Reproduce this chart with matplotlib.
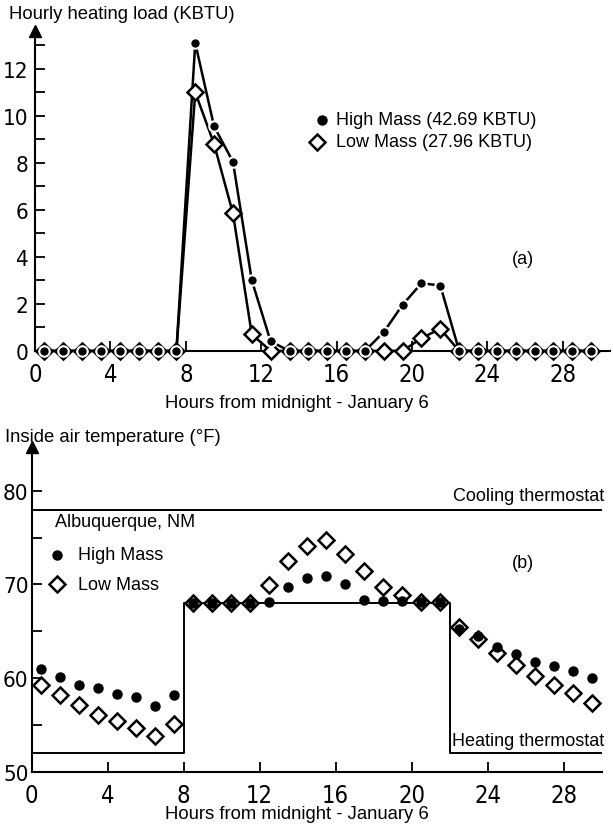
import matplotlib
matplotlib.use('Agg')
import matplotlib.pyplot as plt
from matplotlib import font_manager

# data ---------------------------------------------------------
hours = [0.5, 1.5, 2.5, 3.5, 4.5, 5.5, 6.5, 7.5, 8.5, 9.5,
         10.5, 11.5, 12.5, 13.5, 14.5, 15.5, 16.5, 17.5, 18.5, 19.5,
         20.5, 21.5, 22.5, 23.5, 24.5, 25.5, 26.5, 27.5, 28.5, 29.5]

# (a) hourly heating load, KBTU
load_high = [0, 0, 0, 0, 0, 0, 0, 0, 13.1, 9.55,
             8.05, 3.0, 0.4, 0, 0, 0, 0, 0, 0.8, 1.96,
             2.88, 2.78, 0, 0, 0, 0, 0, 0, 0, 0]
load_low = [0, 0, 0, 0, 0, 0, 0, 0, 11.0, 8.8,
            5.85, 0.7, 0, 0, 0, 0, 0, 0, 0, 0,
            0.54, 0.94, 0, 0, 0, 0, 0, 0, 0, 0]

# (b) inside air temperature, F
temp_high = [61.0, 60.1, 59.3, 58.9, 58.3, 58.0, 57.0, 58.2, 68.0, 68.0,
             68.0, 68.0, 68.1, 69.7, 70.7, 70.9, 70.0, 68.3, 68.2, 68.2,
             68.1, 68.1, 65.2, 64.5, 63.3, 62.6, 61.7, 61.25, 60.7, 60.0]
temp_low = [59.25, 58.2, 57.1, 56.0, 55.4, 54.7, 53.8, 55.1, 68.0, 68.0,
            68.0, 68.0, 69.9, 72.5, 74.1, 74.8, 73.3, 71.4, 69.7, 68.9,
            68.1, 68.1, 65.5, 64.2, 62.7, 61.4, 60.25, 59.3, 58.4, 57.3]

# thermostat schedules
heat_hours = [0, 8, 22, 30]
heat_setpoint = [52, 68, 52, 52]
cool_hours = [0, 30]
cool_setpoint = [78, 78]

xticks = [0, 4, 8, 12, 16, 20, 24, 28]

# fonts ----------------------------------
plt.rcParams['font.family'] = ['Liberation Sans', 'DejaVu Sans']
TXT = 13

# look for a narrow face for the tall, condensed tick numbers
narrow = None
for f in font_manager.fontManager.ttflist:
    tag = (f.name + ' ' + str(f.stretch)).lower()
    if ('narrow' in tag or 'condensed' in tag) and f.style == 'normal' and f.weight in (400, 'normal', 'regular'):
        narrow = f.fname
        break
if narrow:
    xtick_fp = font_manager.FontProperties(fname=narrow, size=17)
    ytick_fp = font_manager.FontProperties(fname=narrow, size=16)
else:
    xtick_fp = font_manager.FontProperties(family='DejaVu Sans', size=14)
    ytick_fp = font_manager.FontProperties(family='DejaVu Sans', size=13)

fig = plt.figure(figsize=(6.13, 8.28), dpi=100)


def style_axis(ax, ymajor, yminor, ypad):
    for s in ['top', 'right']:
        ax.spines[s].set_visible(False)
    ax.spines['left'].set_linewidth(1.5)
    ax.spines['bottom'].set_linewidth(1.5)
    ax.set_xticks(xticks)
    ax.set_yticks(ymajor)
    ax.set_yticks(yminor, minor=True)
    ax.tick_params(axis='both', which='both', direction='in', width=1.3)
    ax.tick_params(axis='both', which='major', length=7)
    ax.tick_params(axis='y', which='minor', length=7)
    ax.tick_params(axis='x', pad=8)
    ax.tick_params(axis='y', pad=ypad)
    for lab in ax.get_xticklabels():
        lab.set_fontproperties(xtick_fp)
    for lab in ax.get_yticklabels():
        lab.set_fontproperties(ytick_fp)
    # arrow head at the top of the y axis
    ax.plot(0, 1, marker='^', ms=8, color='k', transform=ax.transAxes, clip_on=False)


# (a) heating load ----------------------------------
ax1 = fig.add_axes([0.0571, 0.558, 0.938, 0.403])
ax1.set_xlim(0, 30.5)
ax1.set_ylim(-0.6, 13.6)
ax1.spines['bottom'].set_position(('data', 0))
ax1.spines['left'].set_bounds(0, 13.6)
style_axis(ax1, [0, 2, 4, 6, 8, 10, 12], list(range(0, 14)), 5)

ax1.plot(hours, load_high, color='k', lw=1.8, zorder=2)
ax1.plot(hours, load_low, color='k', lw=1.8, zorder=2)
ax1.plot(hours, load_low, linestyle='none', marker='D', ms=8, mfc='white',
         mec='k', mew=1.8, zorder=3, clip_on=False)
ax1.plot(hours, load_high, linestyle='none', marker='o', ms=7.5, mfc='k',
         mec='white', mew=1.5, zorder=4, clip_on=False)

# legend (a)
ax1.plot(15.2, 9.83, 'o', color='k', ms=6.5)
ax1.plot(14.95, 8.9, 'D', mfc='white', mec='k', mew=1.8, ms=8)
ax1.text(15.95, 9.83, 'High Mass (42.69 KBTU)', fontsize=TXT, va='center')
ax1.text(15.95, 8.9, 'Low Mass (27.96 KBTU)', fontsize=TXT, va='center')
ax1.text(25.3, 3.93, '(a)', fontsize=TXT, va='center')

fig.text(0.015, 0.983, 'Hourly heating load (KBTU)', fontsize=13.3, va='center')
fig.text(0.485, 0.513, 'Hours from midnight - January 6', fontsize=13.3,
         va='center', ha='center')

# (b) inside air temperature ----------------------------------
ax2 = fig.add_axes([0.0514, 0.067, 0.930, 0.392])
ax2.set_xlim(0, 30)
ax2.set_ylim(50, 84.7)
style_axis(ax2, [50, 60, 70, 80], [50, 55, 60, 65, 70, 75, 80], 2)

ax2.plot(cool_hours, cool_setpoint, color='k', lw=1.4)
ax2.step(heat_hours, heat_setpoint, where='post', color='k', lw=1.4)
ax2.plot(hours, temp_low, linestyle='none', marker='D', ms=8, mfc='white',
         mec='k', mew=1.8, zorder=3)
ax2.plot(hours, temp_high, linestyle='none', marker='o', ms=6.5, mfc='k',
         mec='k', zorder=4)

# legend (b)
ax2.plot(1.35, 73.2, 'o', color='k', ms=6.5)
ax2.plot(1.35, 70.0, 'D', mfc='white', mec='k', mew=1.8, ms=8)
ax2.text(2.45, 73.2, 'High Mass', fontsize=TXT, va='center')
ax2.text(2.45, 70.0, 'Low Mass', fontsize=TXT, va='center')
ax2.text(1.25, 76.7, 'Albuquerque, NM', fontsize=TXT, va='center')
ax2.text(25.3, 72.3, '(b)', fontsize=TXT, va='center')
ax2.text(30.15, 79.5, 'Cooling thermostat', fontsize=TXT, va='center', ha='right')
ax2.text(30.15, 53.3, 'Heating thermostat', fontsize=TXT, va='center', ha='right')

fig.text(0.008, 0.472, 'Inside air temperature (°F)', fontsize=13.3, va='center')
fig.text(0.485, 0.016, 'Hours from midnight - January 6', fontsize=13.3,
         va='center', ha='center')

fig.savefig('out.png', dpi=100)
